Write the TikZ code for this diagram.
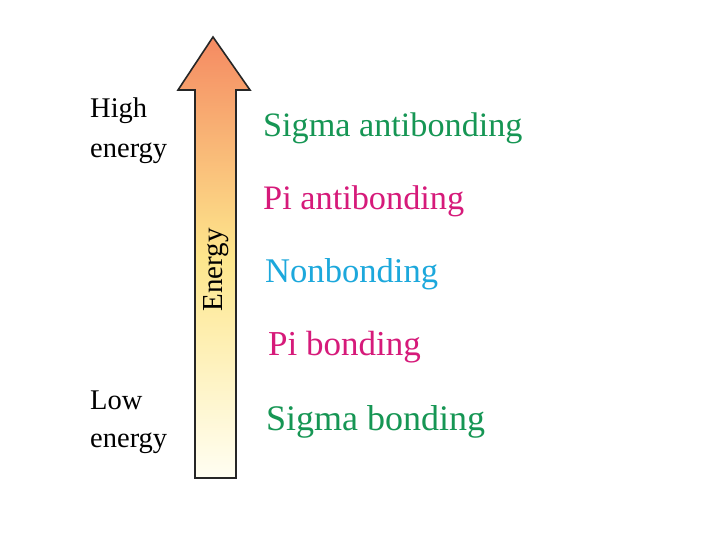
\documentclass[tikz,border=0pt]{standalone}
\usepackage{fontspec}
\setmainfont{Liberation Serif}
\definecolor{sgreen}{RGB}{22,150,84}
\definecolor{pmag}{RGB}{214,26,122}
\definecolor{ncyan}{RGB}{28,168,220}
\definecolor{atop}{RGB}{245,138,98}
\definecolor{amid}{RGB}{253,230,140}
\definecolor{abot}{RGB}{255,254,242}
\begin{document}
\begin{tikzpicture}[x=1pt,y=-1pt,
  lefttext/.style={anchor=base west,font=\fontsize{28.5}{30}\selectfont,inner sep=0pt},
  level/.style={anchor=base west,inner sep=0pt}]
\useasboundingbox (0,0) rectangle (720,540);
\fill[white] (0,0) rectangle (720,540);
\shade[top color=atop,bottom color=abot,middle color=amid,draw=black!85,line width=1.6pt,line join=miter]
  (213,37) -- (250,90) -- (236,90) -- (236,478) -- (195,478) -- (195,90) -- (178,90) -- cycle;
\node[rotate=90,font=\fontsize{29}{30}\selectfont,inner sep=0pt] (en) at (216,270) {Energy};
\node[lefttext] (h1) at (90,118) {High};
\node[lefttext] (h2) at (90,158) {energy};
\node[lefttext] (l1) at (90,409) {Low};
\node[lefttext] (l2) at (90,447) {energy};
\node[level,text=sgreen,font=\fontsize{34.2}{36}\selectfont] (sa) at (263,137) {Sigma antibonding};
\node[level,text=pmag,font=\fontsize{34.3}{36}\selectfont] (pa) at (263,210) {Pi antibonding};
\node[level,text=ncyan,font=\fontsize{34.6}{36}\selectfont] (nb) at (265,282) {Nonbonding};
\node[level,text=pmag,font=\fontsize{35}{36}\selectfont] (pb) at (268,355) {Pi bonding};
\node[level,text=sgreen,font=\fontsize{36}{38}\selectfont] (sb) at (266,430) {Sigma bonding};
\end{tikzpicture}
\end{document}
